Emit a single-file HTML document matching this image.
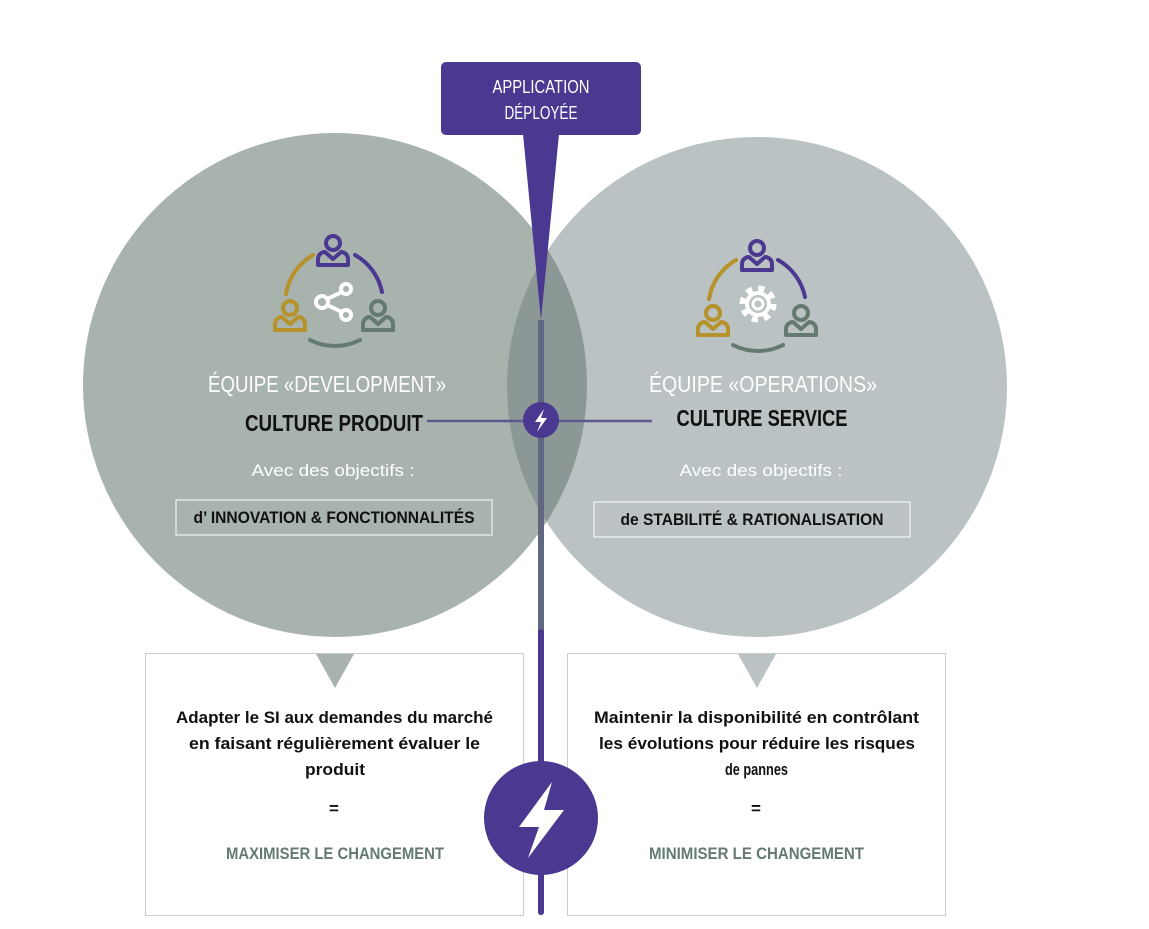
<!DOCTYPE html>
<html><head><meta charset="utf-8"><style>
html,body{margin:0;padding:0;background:#fff;}
svg{display:block;}
text{font-family:"Liberation Sans",sans-serif;}
</style></head><body>
<svg width="1149" height="929" viewBox="0 0 1149 929" xmlns="http://www.w3.org/2000/svg">
<defs>
<clipPath id="cl"><circle cx="335" cy="385" r="252"/></clipPath>
<g id="person"><circle cx="0" cy="-10" r="7" fill="none" stroke-width="4"/><path d="M-15 12 V6 a7 7 0 0 1 7 -7 L0 6 L8 -1 a7 7 0 0 1 7 7 V12 Z" fill="none" stroke-width="4" stroke-linejoin="round"/></g>
</defs>
<circle cx="335" cy="385" r="252" fill="#a8b3ae"/>
<circle cx="757" cy="387" r="250" fill="#bbc2c3"/>
<circle cx="757" cy="387" r="250" fill="#8b9895" clip-path="url(#cl)"/>
<line x1="541" y1="320" x2="541" y2="637" stroke="#5f6880" stroke-width="6"/>
<line x1="541" y1="632" x2="541" y2="912" stroke="#4b3991" stroke-width="6" stroke-linecap="round"/>
<line x1="427" y1="421" x2="652" y2="421" stroke="#5d5a8e" stroke-width="2.5"/>
<rect x="441" y="62" width="200" height="73" rx="5" fill="#4b3991"/>
<path d="M523 134 L559 134 L541 320 Z" fill="#4b3991"/>
<text x="541" y="93" fill="#fff" font-size="18" text-anchor="middle" textLength="97" lengthAdjust="spacingAndGlyphs">APPLICATION</text>
<text x="541" y="119" fill="#fff" font-size="18" text-anchor="middle" textLength="73" lengthAdjust="spacingAndGlyphs">DÉPLOYÉE</text>
<circle cx="541" cy="420" r="18" fill="#4b3991"/>
<path d="M544 409 L535 422 L541 422 L537 432 L547 418 L541 418 Z" fill="#fff"/>
<g fill="none" stroke-width="4" stroke-linecap="round">
<path d="M286 294 A55 55 0 0 1 313 255" stroke="#b5922a"/>
<path d="M355 255 A55 55 0 0 1 382 292" stroke="#4b3991"/>
<path d="M310 340 A55 55 0 0 0 360 340" stroke="#647a70"/>
</g>
<use href="#person" x="333" y="253" stroke="#4b3991"/>
<use href="#person" x="290" y="318" stroke="#b5922a"/>
<use href="#person" x="378" y="318" stroke="#647a70"/>
<g stroke="#fff" stroke-width="4" fill="none"><circle cx="346" cy="289" r="5"/><circle cx="346" cy="315" r="5"/><circle cx="322" cy="302" r="6"/><line x1="327" y1="299" x2="342" y2="292"/><line x1="327" y1="305" x2="342" y2="312"/></g>
<g fill="none" stroke-width="4" stroke-linecap="round">
<path d="M709 299 A55 55 0 0 1 736 260" stroke="#b5922a"/>
<path d="M778 260 A55 55 0 0 1 805 297" stroke="#4b3991"/>
<path d="M733 345 A55 55 0 0 0 783 345" stroke="#647a70"/>
</g>
<use href="#person" x="757" y="258" stroke="#4b3991"/>
<use href="#person" x="713" y="323" stroke="#b5922a"/>
<use href="#person" x="801" y="323" stroke="#647a70"/>
<g stroke="#fff" fill="none"><circle cx="758" cy="304" r="15" stroke-width="7" stroke-dasharray="5.9 5.9"/><circle cx="758" cy="304" r="11" stroke-width="4"/><circle cx="758" cy="304" r="5" stroke-width="3"/></g>
<text x="327" y="392" fill="#fff" font-size="23" text-anchor="middle" textLength="238" lengthAdjust="spacingAndGlyphs">ÉQUIPE  «DEVELOPMENT»</text>
<text x="334" y="431" fill="#111" font-size="23" font-weight="bold" text-anchor="middle" textLength="178" lengthAdjust="spacingAndGlyphs">CULTURE PRODUIT</text>
<text x="333" y="476" fill="#fff" font-size="17" text-anchor="middle" textLength="163" lengthAdjust="spacingAndGlyphs">Avec des objectifs  :</text>
<rect x="176" y="500" width="316" height="35" fill="none" stroke="#fff" stroke-width="1"/>
<text x="334" y="523" fill="#111" font-size="17" font-weight="bold" text-anchor="middle" textLength="281" lengthAdjust="spacingAndGlyphs">d’ INNOVATION &amp; FONCTIONNALITÉS</text>
<text x="763" y="392" fill="#fff" font-size="23" text-anchor="middle" textLength="228" lengthAdjust="spacingAndGlyphs">ÉQUIPE «OPERATIONS»</text>
<text x="762" y="426" fill="#111" font-size="23" font-weight="bold" text-anchor="middle" textLength="171" lengthAdjust="spacingAndGlyphs">CULTURE SERVICE</text>
<text x="761" y="476" fill="#fff" font-size="17" text-anchor="middle" textLength="163" lengthAdjust="spacingAndGlyphs">Avec des objectifs  :</text>
<rect x="594" y="502" width="316" height="35" fill="none" stroke="#fff" stroke-width="1"/>
<text x="752" y="525" fill="#111" font-size="17" font-weight="bold" text-anchor="middle" textLength="263" lengthAdjust="spacingAndGlyphs">de STABILITÉ &amp; RATIONALISATION</text>
<rect x="145.5" y="653.5" width="378" height="262" fill="#fff" stroke="#ccc"/>
<rect x="567.5" y="653.5" width="378" height="262" fill="#fff" stroke="#ccc"/>
<path d="M316 654 L354 654 L335 688 Z" fill="#a8b3ae"/>
<path d="M738 654 L776 654 L757 688 Z" fill="#bbc2c3"/>
<g font-size="17" fill="#111" text-anchor="middle" font-weight="bold" lengthAdjust="spacingAndGlyphs">
<text x="334.5" y="723" textLength="317" lengthAdjust="spacingAndGlyphs">Adapter le SI aux demandes du marché</text>
<text x="334.5" y="749" textLength="291" lengthAdjust="spacingAndGlyphs">en faisant régulièrement évaluer le</text>
<text x="335" y="775" textLength="60" lengthAdjust="spacingAndGlyphs">produit</text>
<text x="334" y="814">=</text>
<text x="756.5" y="723" textLength="325" lengthAdjust="spacingAndGlyphs">Maintenir la disponibilité en contrôlant</text>
<text x="757" y="749" textLength="316" lengthAdjust="spacingAndGlyphs">les évolutions pour réduire les risques</text>
<text x="756.5" y="775" textLength="63" lengthAdjust="spacingAndGlyphs">de pannes</text>
<text x="756" y="814">=</text>
</g>
<text x="335" y="859" fill="#647a70" font-size="17" font-weight="bold" text-anchor="middle" textLength="218" lengthAdjust="spacingAndGlyphs">MAXIMISER LE CHANGEMENT</text>
<text x="756.5" y="859" fill="#647a70" font-size="17" font-weight="bold" text-anchor="middle" textLength="215" lengthAdjust="spacingAndGlyphs">MINIMISER LE CHANGEMENT</text>
<line x1="541" y1="650" x2="541" y2="912" stroke="#4b3991" stroke-width="6" stroke-linecap="round"/>
<circle cx="541" cy="818" r="57" fill="#4b3991"/>
<path d="M552 782 L519 827 L539 827 L528 858 L564 810 L544 810 Z" fill="#fff"/>
</svg>
</body></html>
